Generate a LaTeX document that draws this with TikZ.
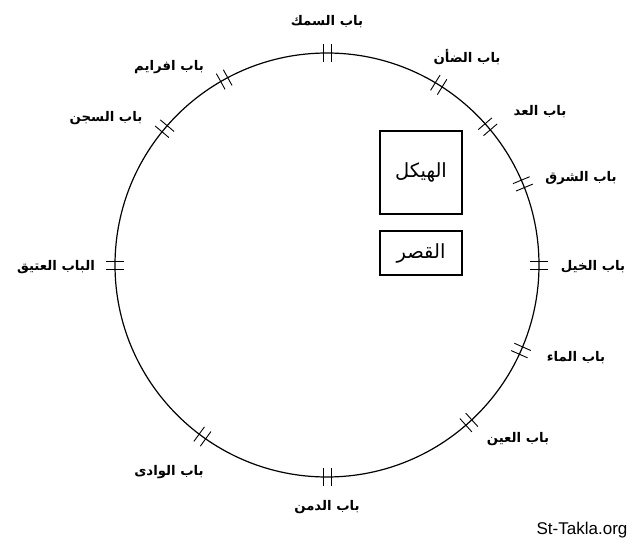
\documentclass[tikz,border=0pt]{standalone}
\usepackage{fontspec}
\setmainfont{Liberation Sans}
\newfontfamily\arabicfont[Script=Arabic]{DejaVu Sans}
\TeXXeTstate=1
\newcommand{\ar}[1]{\beginR #1\endR}
\begin{document}
\begin{tikzpicture}[x=1pt,y=1pt,
  wallline/.style={line width=1.2pt},
  tickline/.style={line width=0.9pt},
  gatelbl/.style={font=\arabicfont\bfseries\fontsize{13.3}{16}\selectfont, inner sep=0pt},
  bldg/.style={draw, line width=1.3pt, inner sep=0pt, font=\arabicfont\fontsize{19.5}{22}\selectfont},
  credit/.style={font=\fontsize{17}{20}\selectfont, inner sep=0pt}]
\useasboundingbox (0,0) rectangle (640,-545);
\fill[white] (0,0) rectangle (640,-545);
\coordinate (c) at (327,-265);
\node[draw, circle, wallline, minimum size=424pt, inner sep=0pt] (wall) at (c) {};
% gate ticks
\foreach \a in {90,58.2,40.7,22.5,0,-23.8,-48,-90,234,180,140,119}{
  \draw[tickline, shift={(c)}, rotate=\a] (203,4) -- (221,4) (203,-4) -- (221,-4);
}
% gate labels
\node[gatelbl] (g1) at (327,-22) {\ar{باب السمك}};
\node[gatelbl] (g2) at (467,-57) {\ar{باب الضأن}};
\node[gatelbl] (g3) at (540,-112) {\ar{باب العد}};
\node[gatelbl] (g4) at (581,-178) {\ar{باب الشرق}};
\node[gatelbl] (g5) at (593,-267) {\ar{باب الخيل}};
\node[gatelbl] (g6) at (576,-358) {\ar{باب الماء}};
\node[gatelbl] (g7) at (518,-439) {\ar{باب العين}};
\node[gatelbl] (g8) at (327,-507) {\ar{باب الدمن}};
\node[gatelbl] (g9) at (169,-472) {\ar{باب الوادى}};
\node[gatelbl] (g10) at (56,-267) {\ar{الباب العتيق}};
\node[gatelbl] (g11) at (106,-118) {\ar{باب السجن}};
\node[gatelbl] (g12) at (169,-67) {\ar{باب افرايم}};
% buildings
\node[bldg, minimum width=82pt, minimum height=83pt] (temple) at (421,-172.5) {\ar{الهيكل}};
\node[bldg, minimum width=82pt, minimum height=44pt] (palace) at (421,-253) {\ar{القصر}};
% credit
\node[credit] (credit) at (582,-530) {St-Takla.org};
\end{tikzpicture}
\end{document}
